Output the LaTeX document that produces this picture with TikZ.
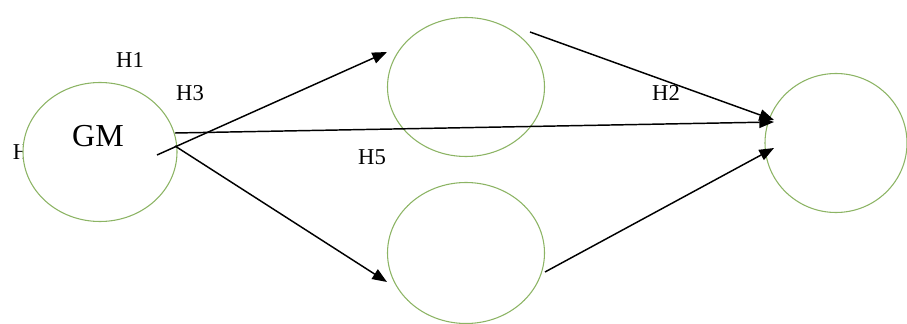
\documentclass[tikz,border=0pt]{standalone}
\usepackage{fontspec}
\setmainfont{Liberation Serif}
\usetikzlibrary{shapes.geometric,arrows.meta}
\definecolor{ringgreen}{RGB}{140,180,100}
\tikzset{
  ring/.style={ellipse, draw=ringgreen, line width=0.8pt, fill=white, inner sep=0pt},
  link/.style={draw=black, line width=1.1pt, -{Triangle[length=11pt,width=8.5pt]}},
  hlab/.style={font=\fontsize{17}{20}\selectfont, inner sep=0pt},
}
\begin{document}
\begin{tikzpicture}[x=0.75pt,y=-0.75pt]
\useasboundingbox (0,0) rectangle (907,324);
\node[hlab] (hleft) at (21,152) {H};
\node[ring, minimum width=154*0.75pt, minimum height=139*0.75pt] (gm) at (100,152) {};
\node[ring, minimum width=157*0.75pt, minimum height=139*0.75pt] (top) at (466,87) {};
\node[ring, minimum width=157*0.75pt, minimum height=141*0.75pt] (bot) at (466,253) {};
\node[ring, minimum width=142*0.75pt, minimum height=139*0.75pt] (right) at (836,143) {};
\node[font=\fontsize{24}{28}\selectfont, inner sep=0pt] (gmtext) at (98,136) {GM};
% endpoints
\coordinate (s1) at (157,155);
\coordinate (e1) at (387,52);
\coordinate (s2) at (175,133);
\coordinate (e2) at (774,122);
\coordinate (s3) at (175,146);
\coordinate (e3) at (387,282);
\coordinate (s4) at (530,32);
\coordinate (e4) at (774,120);
\coordinate (s5) at (545,272);
\coordinate (e5) at (774,148);
\draw[link] (s1) -- (e1);
\draw[link] (s2) -- (e2);
\draw[link] (s3) -- (e3);
\draw[link] (s4) -- (e4);
\draw[link] (s5) -- (e5);
\node[hlab] (h1) at (130,60) {H1};
\node[hlab] (h3) at (190,93) {H3};
\node[hlab] (h2) at (666,93) {H2};
\node[hlab] (h5) at (372,157) {H5};
\end{tikzpicture}
\end{document}
